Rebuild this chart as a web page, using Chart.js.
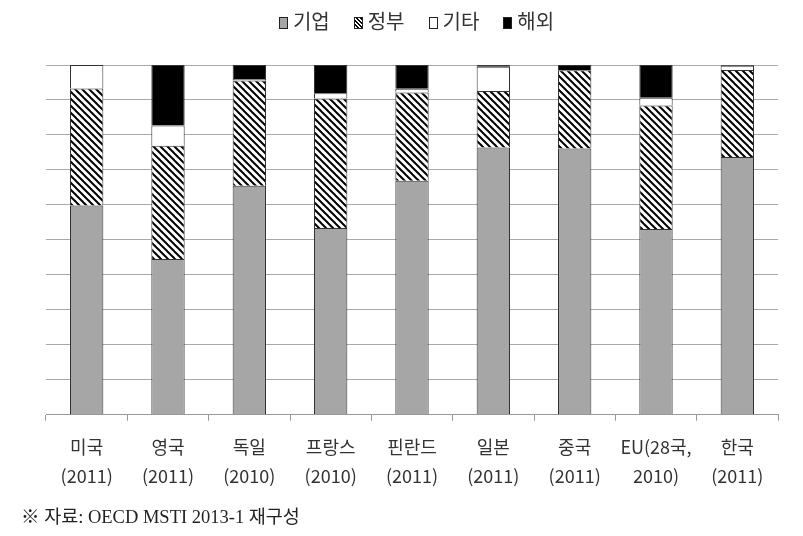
<!DOCTYPE html>
<html><head><meta charset="utf-8">
<script src="https://cdn.jsdelivr.net/npm/chart.js@4"></script>
<style>
html,body{margin:0;padding:0;background:#fff;}
#wrap{position:relative;width:803px;height:536px;}
#legend{position:absolute;top:8px;left:30px;width:773px;text-align:center;font-family:"Noto Sans CJK KR",sans-serif;font-size:20px;color:#333;line-height:26px;white-space:nowrap;}
#legend span.item{display:inline-block;margin:0 12px;}
#legend span.box{display:inline-block;width:9px;height:12px;border:1px solid #222;margin-right:5px;vertical-align:0px;box-sizing:border-box;}
#note{position:absolute;left:21px;top:502px;font-family:"Liberation Serif","Noto Sans CJK KR",serif;font-size:18.5px;color:#222;}
</style></head>
<body><div id="wrap"><canvas id="c" width="803" height="536"></canvas>
<div id="legend"></div>
<div id="note">※ 자료: OECD MSTI 2013-1 재구성</div></div>
<script>
const categories = [['미국','(2011)'],['영국','(2011)'],['독일','(2010)'],['프랑스','(2010)'],['핀란드','(2011)'],['일본','(2011)'],['중국','(2011)'],['EU(28국,','2010)'],['한국','(2011)']];
const seriesNames = ['기업','정부','기타','해외'];
const business = [59.8, 44.5, 65.5, 53.4, 66.9, 76.4, 76.1, 53.1, 73.7];
const government = [33.5, 32.4, 30.1, 37.0, 25.2, 16.2, 22.4, 35.3, 24.9];
const other = [6.7, 5.8, 0.4, 1.5, 1.1, 6.9, 0.1, 2.2, 1.2];
const abroad = [0.0, 17.3, 4.0, 8.1, 6.8, 0.5, 1.4, 9.4, 0.2];

function hatch(){
  const s=7, p=document.createElement('canvas'); p.width=s; p.height=s;
  const g=p.getContext('2d'); g.fillStyle='#fff'; g.fillRect(0,0,s,s);
  g.strokeStyle='#000'; g.lineWidth=2;
  for(let k=-1;k<=1;k++){g.beginPath();g.moveTo(-1,k*s-1);g.lineTo(s+1,s+k*s+1);g.stroke();}
  return g.createPattern(p,'repeat');
}
const ctx=document.getElementById('c').getContext('2d');
const fills=['#a6a6a6', hatch(), '#ffffff', '#000000'];
const cssFills=['#a6a6a6','repeating-linear-gradient(45deg,#fff 0 1.5px,#000 1.5px 3px)','#fff','#000'];
document.getElementById('legend').innerHTML=seriesNames.map((n,i)=>'<span class="item"><span class="box" style="background:'+cssFills[i]+'"></span>'+n+'</span>').join('');
const vals=[business,government,other,abroad];
new Chart(ctx,{
  type:'bar',
  data:{labels:categories,datasets:seriesNames.map((n,i)=>({label:n,data:vals[i],backgroundColor:fills[i],borderColor:'#333',borderWidth:1,barPercentage:0.41,categoryPercentage:1}))},
  options:{
    responsive:false,animation:false,
    layout:{padding:{left:46,right:25,top:65,bottom:33}},
    plugins:{legend:{display:false},tooltip:{enabled:false}},
    scales:{
      x:{stacked:true,
        grid:{drawOnChartArea:false,drawTicks:true,tickLength:6,color:'#999'},
        border:{color:'#999'},
        ticks:{font:{family:'"Noto Sans CJK KR", sans-serif',size:18,lineHeight:1.62},color:'#333',padding:12,maxRotation:0,autoSkip:false}},
      y:{stacked:true,min:0,max:100,
        ticks:{display:false,stepSize:10},
        grid:{color:'#aaa',drawTicks:false},
        border:{display:false}}
    }
  }
});
</script></body></html>
